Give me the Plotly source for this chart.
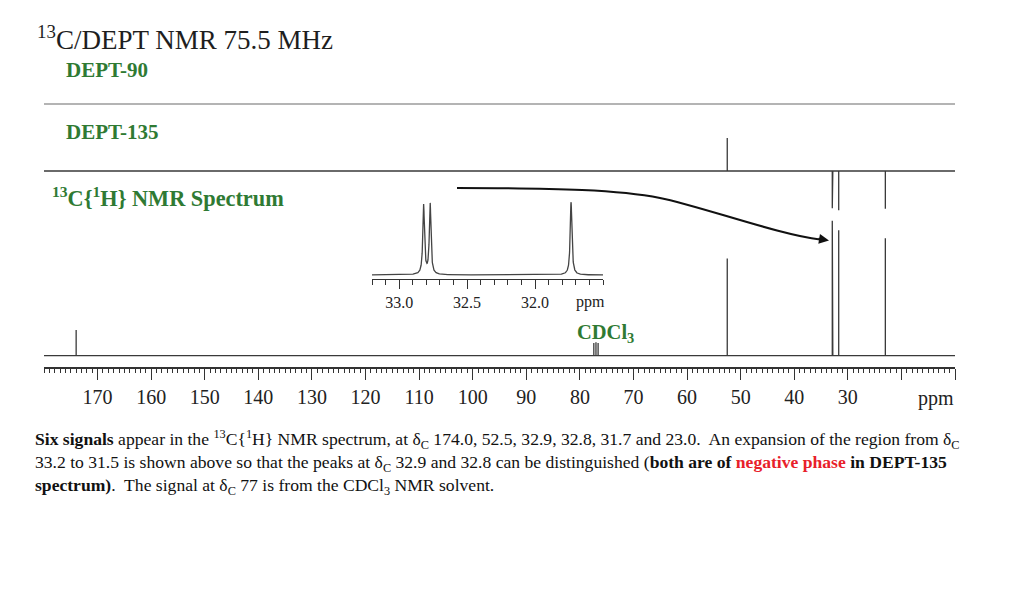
import numpy as np
import plotly.graph_objects as go

W, H = 1024, 609

# ---------------- data ----------------
# 13C{1H} spectrum: peak positions (ppm) and relative intensities
c13_ppm = [174.0, 77.4, 77.0, 76.6, 52.5, 32.9, 32.8, 31.7, 23.0]
c13_int = [19, 9.5, 10, 9.5, 72, 100, 100, 93, 87]

# DEPT-135: CH/CH3 positive, CH2 negative
dept135_ppm = [52.5, 32.9, 32.8, 31.7, 23.0]
dept135_int = [24.5, -27.5, -27.5, -29, -28]

# DEPT-90: no CH carbons -> flat
dept90_ppm = []
dept90_int = []

# Expansion 33.2-31.5 ppm (peak centre, height, half-width in ppm)
exp_ppm = [32.82, 32.772, 31.735]
exp_int = [95, 97, 100]
exp_hw = [0.0072, 0.0072, 0.0075]

main_ticks = [170, 160, 150, 140, 130, 120, 110, 100, 90, 80, 70, 60, 50, 40, 30, 20, 10]
main_ticklabels = ["170", "160", "150", "140", "130", "120", "110", "100", "90", "80",
                   "70", "60", "50", "40", "30", "", ""]
exp_ticks = [33.0, 32.5, 32.0]
exp_ticklabels = ["33.0", "32.5", "32.0"]

PPM_MAX, PPM_MIN = 180, 10
EXP_MAX, EXP_MIN = 33.2, 31.5


def sticks(ppms, ints, lo, hi):
    order = sorted(range(len(ppms)), key=lambda i: -ppms[i])
    xs, ys = [hi], [0]
    for i in order:
        xs += [ppms[i], ppms[i], ppms[i]]
        ys += [0, ints[i], 0]
    xs.append(lo)
    ys.append(0)
    return xs, ys


def px(xp):
    return xp / W


def py(yp):
    return 1 - yp / H


SERIF = "Liberation Serif, Times New Roman, serif"
GREEN = "#2f7a33"
INK = "#222222"
LINE = "#3a3a3a"

fig = go.Figure()

# 13C spectrum
x1, y1 = sticks(c13_ppm, c13_int, PPM_MIN, PPM_MAX)
fig.add_trace(go.Scatter(x=x1, y=y1, mode="lines", line=dict(color=LINE, width=1.3),
                         xaxis="x", yaxis="y", hoverinfo="skip"))
# DEPT-135
x2, y2 = sticks(dept135_ppm, dept135_int, PPM_MIN, PPM_MAX)
fig.add_trace(go.Scatter(x=x2, y=y2, mode="lines", line=dict(color=LINE, width=1.3),
                         xaxis="x2", yaxis="y2", hoverinfo="skip"))
# DEPT-90
x3, y3 = sticks(dept90_ppm, dept90_int, PPM_MIN, PPM_MAX)
fig.add_trace(go.Scatter(x=x3, y=y3, mode="lines", line=dict(color="#6a6a6a", width=1.1),
                         xaxis="x3", yaxis="y3", hoverinfo="skip"))
# Expansion (Lorentzian line shapes built from the peak list)
xe = np.linspace(EXP_MAX, EXP_MIN, 2001)
ye = np.zeros_like(xe)
for c, h, g in zip(exp_ppm, exp_int, exp_hw):
    ye += h / (1 + ((xe - c) / g) ** 2)
fig.add_trace(go.Scatter(x=xe, y=ye, mode="lines", line=dict(color="#444444", width=1.3),
                         xaxis="x4", yaxis="y4", hoverinfo="skip"))

# ---------------- axes ----------------
xdom = [px(44), px(955)]
layout = dict(
    width=W, height=H, margin=dict(l=0, r=0, t=0, b=0),
    paper_bgcolor="white", plot_bgcolor="rgba(0,0,0,0)", showlegend=False,
    xaxis=dict(domain=xdom, range=[PPM_MAX, PPM_MIN], anchor="y",
               showline=True, linecolor="#333", linewidth=1.5, showgrid=False, zeroline=False,
               tickmode="array", tickvals=main_ticks, ticktext=main_ticklabels,
               ticks="outside", ticklen=11, tickwidth=1.3, tickcolor="#333",
               minor=dict(dtick=1, tick0=0, ticks="outside", ticklen=4, tickwidth=1, tickcolor="#333",
                          showgrid=False),
               tickfont=dict(family=SERIF, size=20, color=INK), ticklabelstandoff=0),
    # 13C y: baseline 355.7 px, axis at 367 px, 1.35 px/unit
    yaxis=dict(domain=[py(367), py(207)], range=[-(367 - 355.7) / 1.35, (355.7 - 207) / 1.35],
               visible=False),
    xaxis2=dict(domain=xdom, range=[PPM_MAX, PPM_MIN], anchor="y2", visible=False, matches="x"),
    yaxis2=dict(domain=[py(225), py(117)], range=[-(225 - 171) / 1.35, (171 - 117) / 1.35],
                visible=False),
    xaxis3=dict(domain=xdom, range=[PPM_MAX, PPM_MIN], anchor="y3", visible=False, matches="x"),
    yaxis3=dict(domain=[py(114), py(94)], range=[-10, 10], visible=False),
    xaxis4=dict(domain=[px(372), px(603)], range=[EXP_MAX, EXP_MIN], anchor="y4",
                showline=True, linecolor="#333", linewidth=1.3, showgrid=False, zeroline=False,
                tickmode="array", tickvals=exp_ticks, ticktext=exp_ticklabels,
                ticks="outside", ticklen=9, tickwidth=1.2, tickcolor="#333",
                minor=dict(dtick=0.1, tick0=0, ticks="outside", ticklen=5, tickwidth=1, tickcolor="#333",
                           showgrid=False),
                tickfont=dict(family=SERIF, size=16, color=INK), ticklabelstandoff=0),
    yaxis4=dict(domain=[py(279), py(195)], range=[-(279 - 275) / 0.73, (275 - 195) / 0.73],
                visible=False),
)
fig.update_layout(**layout)

# ---------------- arrow ----------------
path = "M {:.4f},{:.4f} C {:.4f},{:.4f} {:.4f},{:.4f} {:.4f},{:.4f} S {:.4f},{:.4f} {:.4f},{:.4f}".format(
    px(457), py(188), px(560), py(188), px(620), py(190), px(660), py(198),
    px(780), py(235), px(820), py(239.5))
fig.add_shape(type="path", path=path, xref="paper", yref="paper",
              line=dict(color="#111", width=2.2))
fig.add_annotation(x=px(829), y=py(240.5), xref="paper", yref="paper", ax=-12, ay=-2,
                   showarrow=True, arrowhead=2, arrowsize=1, arrowwidth=2, arrowcolor="#111", text="")

# ---------------- text ----------------
def txt(x, y, s, size, color=INK, anchor="left"):
    fig.add_annotation(x=px(x), y=py(y), xref="paper", yref="paper", text=s, showarrow=False,
                       xanchor=anchor, yanchor="middle", align="left",
                       font=dict(family=SERIF, size=size, color=color))

txt(35, 38, "<sup>13</sup>C/DEPT NMR 75.5 MHz", 27, "#1e1e1e")
txt(64, 70, "<b>DEPT-90</b>", 21, GREEN)
txt(64, 132, "<b>DEPT-135</b>", 21, GREEN)
txt(50, 197, "<b><sup>13</sup>C{<sup>1</sup>H} NMR Spectrum</b>", 22.3, GREEN)
txt(575, 333, "<b>CDCl<sub>3</sub></b>", 20.5, GREEN)
txt(590, 302, "ppm", 16, INK, "center")
txt(936, 398, "ppm", 20, INK, "center")

RED = "#e8202a"
cap1 = ("<b>Six signals</b> appear in the <sup>13</sup>C{<sup>1</sup>H} NMR spectrum, at δ<sub>C</sub> "
        "174.0, 52.5, 32.9, 32.8, 31.7 and 23.0.&nbsp; An expansion of the region from δ<sub>C</sub>")
cap2 = ("33.2 to 31.5 is shown above so that the peaks at δ<sub>C</sub> 32.9 and 32.8 can be distinguished "
        "(<b>both are of </b><b><span style='color:" + RED + "'>negative phase</span></b><b> in DEPT-135</b>")
cap3 = ("<b>spectrum)</b>.&nbsp; The signal at δ<sub>C</sub> 77 is from the CDCl<sub>3</sub> NMR solvent.")
txt(33, 462, cap1 + "<br>" + cap2 + "<br>" + cap3, 17.6, "#111")

fig.write_html("out.html")
